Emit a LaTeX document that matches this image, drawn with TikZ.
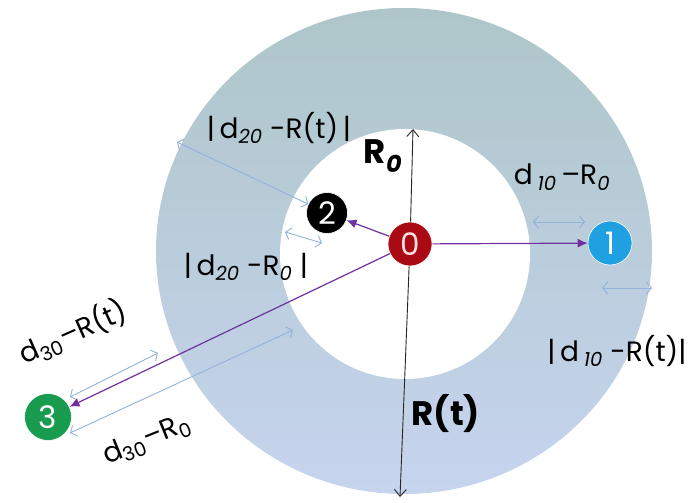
\documentclass[tikz,border=0pt]{standalone}
\usepackage{fontspec}
\setmainfont{Poppins}
\usetikzlibrary{arrows.meta,positioning}
\definecolor{ringtop}{RGB}{174,198,201}
\definecolor{ringbot}{RGB}{198,212,238}
\definecolor{gapblue}{RGB}{145,178,218}
\definecolor{linkpurple}{RGB}{112,48,160}
\definecolor{seedred}{RGB}{170,10,20}
\definecolor{peerblue}{RGB}{30,160,225}
\definecolor{peergreen}{RGB}{25,155,80}
\tikzset{
  peer/.style={circle,draw=white,line width=.6pt,text=white,minimum size=44pt,inner sep=0pt,font=\fontsize{31}{31}\selectfont},
  link/.style={linkpurple,line width=1.2pt,-{Latex[length=10pt,width=9pt]}},
  gapline/.style={gapblue,line width=.9pt,{Straight Barb[length=5pt,width=12pt]}-{Straight Barb[length=5pt,width=12pt]}},
  rline/.style={black!85,line width=.9pt,-{Straight Barb[length=7pt,width=12pt]}},
  lbl/.style={font=\fontsize{28}{28}\selectfont,inner sep=0pt},
  blbl/.style={font=\fontsize{34}{34}\selectfont\bfseries,inner sep=0pt}
}
\begin{document}
\begin{tikzpicture}[x=1pt,y=1pt]
\useasboundingbox (0,0) rectangle (691,-503);
% ring between R0 and R(t)
\shade[top color=ringtop,bottom color=ringbot] (404,-251) ellipse [x radius=248,y radius=243];
\fill[white] (405,-254) circle [radius=125];
% peers
\node[peer,fill=seedred,text=red!12!white] (n0) at (410,-244) {0};
\node[peer,fill=peerblue] (n1) at (610,-243) {1};
\node[peer,fill=black,minimum size=41pt] (n2) at (327,-213) {2};
\node[peer,fill=peergreen,minimum size=47pt] (n3) at (48,-417) {3};
% radii
\coordinate (r0top) at (413,-129);
\coordinate (rtbot) at (400,-497);
\draw[rline] (n0) -- (r0top);
\draw[rline] (n0) -- (rtbot);
% gaps
\coordinate (g10a) at (533,-222);
\coordinate (g10b) at (585,-222);
\coordinate (g10c) at (602,-288);
\coordinate (g10d) at (652,-288);
\coordinate (g20a) at (177,-142);
\coordinate (g20b) at (285,-232);
\coordinate (g20c) at (322,-243);
\coordinate (g30a) at (70,-397);
\coordinate (g30b) at (158,-353);
\coordinate (g30c) at (70,-433);
\coordinate (g30d) at (293,-330);
\draw[gapline] (g10a) -- (g10b);
\draw[gapline] (g10c) -- (g10d);
\draw[gapline] (g20a) -- (n2);
\draw[gapline] (g20b) -- (g20c);
\draw[gapline] (g30a) -- (g30b);
\draw[gapline] (g30c) -- (g30d);
% links from 0
\draw[link] (n0) -- (n1);
\draw[link] (n0) -- (n2);
\draw[link] (n0) -- (n3);
% labels
\node[lbl] (l20t) at (279,-128) {|\,d\textsubscript{\textit{20}} -R(t)\,|};
\node[blbl] (lr0) at (383,-156) {R\textsubscript{\textit{0}}};
\node[lbl] (l10) at (562,-177) {d\,\textsubscript{\textit{10}}\,–R\textsubscript{\textit{0}}};
\node[lbl] (l20r) at (246,-267) {|\,d\textsubscript{\textit{20}} -R\textsubscript{\textit{0}} |};
\node[lbl] (l10t) at (617,-351) {|\,d\,\textsubscript{\textit{10}} -R(t)|};
\node[blbl] (lrt) at (446,-414) {R(t)};
\node[lbl,rotate=24] (l30t) at (73,-332) {d\textsubscript{30}–R(t)};
\node[lbl,rotate=22] (l30r) at (147,-440) {d\textsubscript{30}–R\textsubscript{0}};
\end{tikzpicture}
\end{document}
